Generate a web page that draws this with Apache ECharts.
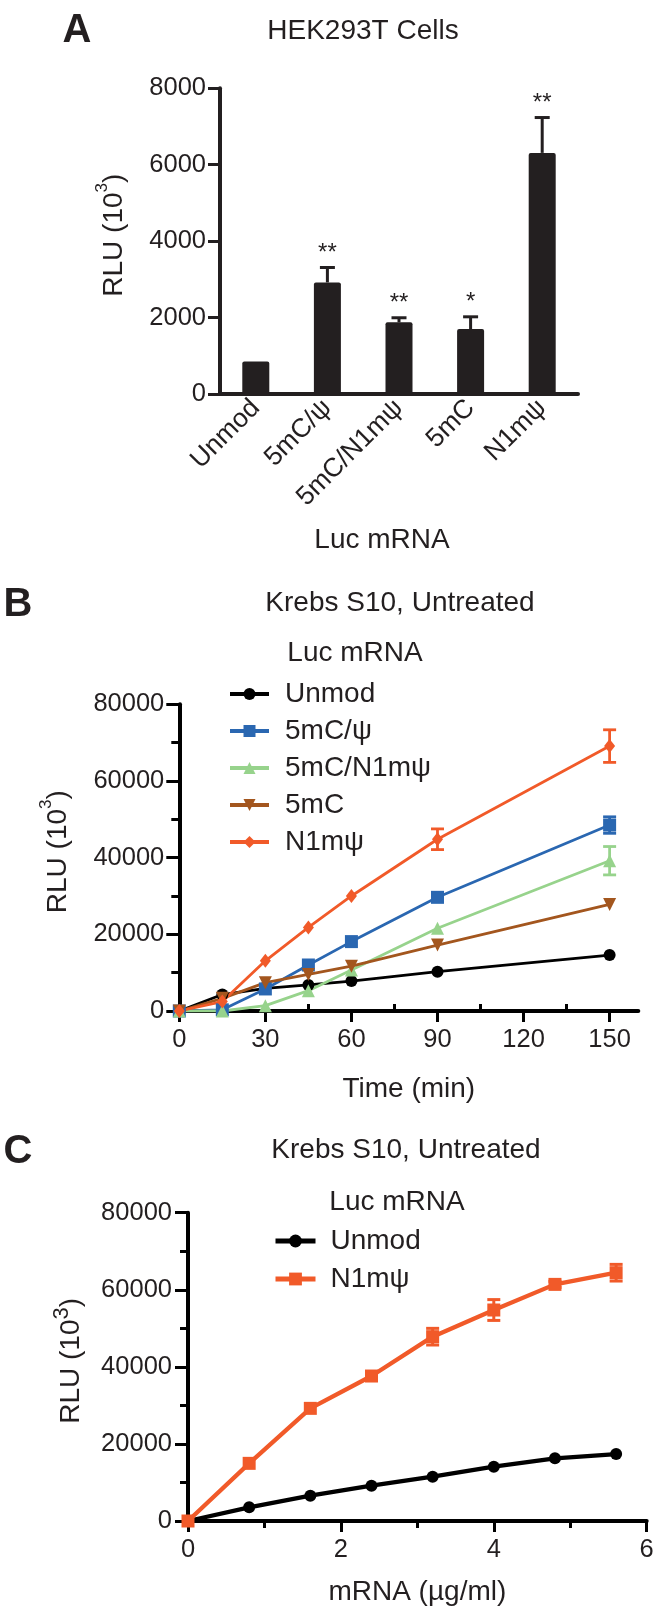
<!DOCTYPE html>
<html><head><meta charset="utf-8">
<script src="https://cdn.jsdelivr.net/npm/echarts@6/dist/echarts.min.js"></script>
<style>html,body{margin:0;padding:0;background:#fff}#c{width:661px;height:1620px}</style>
</head><body><div id="c"></div>
<script>
// ---------- Panel A data ----------
const aCategories = ['Unmod', '5mC/ψ', '5mC/N1mψ', '5mC', 'N1mψ'];
const aValues = [850, 2920, 1875, 1700, 6310];
const aErrors = [15, 390, 120, 320, 925];
const aStars = ['', '**', '**', '*', '**'];
const aYTicks = [0, 2000, 4000, 6000, 8000];

// ---------- Panel B data ----------
const bTimes = [0, 15, 30, 45, 60, 90, 150];
const bNames = ['Unmod', '5mC/ψ', '5mC/N1mψ', '5mC', 'N1mψ'];
const bUnmod = [0, 4300, 5900, 6800, 7800, 10250, 14600];
const bUnmodErr = [0, 0, 0, 0, 0, 0, 0];
const b5mCPsi = [0, 300, 5750, 12000, 18100, 29650, 48500];
const b5mCPsiErr = [0, 0, 0, 0, 0, 0, 2150];
const b5mCN1mPsi = [0, 0, 1400, 5300, 10700, 21600, 39200];
const b5mCN1mPsiErr = [0, 0, 0, 0, 0, 0, 3700];
const b5mC = [0, 3300, 7400, 9550, 11700, 17200, 27800];
const b5mCErr = [0, 0, 0, 0, 0, 0, 0];
const bN1mPsi = [0, 2450, 13100, 21800, 30000, 44800, 69100];
const bN1mPsiErr = [0, 0, 0, 0, 0, 2700, 4250];
const bXTicks = [0, 30, 60, 90, 120, 150];
const bXMinorTicks = [15, 45, 75, 105, 135];

// ---------- Panel C data ----------
const cDose = [0, 0.8, 1.6, 2.4, 3.2, 4.0, 4.8, 5.6];
const cNames = ['Unmod', 'N1mψ'];
const cUnmod = [0, 3550, 6570, 9170, 11500, 14100, 16260, 17380];
const cUnmodErr = [0, 0, 0, 0, 0, 0, 0, 0];
const cN1mPsi = [0, 14960, 29230, 37620, 47830, 54750, 61400, 64430];
const cN1mPsiErr = [0, 0, 0, 0, 2160, 2700, 800, 2160];

// ---------- styling ----------
const FONT = '"Liberation Sans", Arial, Helvetica, sans-serif';
const INK = '#231f20';
const COLORS = {
  'Unmod': '#000000',
  '5mC/ψ': '#2a67b1',
  '5mC/N1mψ': '#97d38c',
  '5mC': '#a3561e',
  'N1mψ': '#f15a29'
};

const chart = echarts.init(document.getElementById('c'), null, {renderer: 'canvas'});

function yName(sup) {
  return {
    name: '{a|RLU (10}{s|3}{a|)}',
    nameLocation: 'middle',
    nameRotate: 90,
    nameTextStyle: {
      padding: [0, 0, 0, 12],
      rich: {
        a: {fontSize: 28, fontFamily: FONT, color: INK, lineHeight: 34, verticalAlign: 'bottom'},
        s: {fontSize: sup, fontFamily: FONT, color: INK, lineHeight: 34, verticalAlign: 'top'}
      }
    }
  };
}
const numFmt = v => String(v);
const tickLabel = {fontSize: 25.5, fontFamily: FONT, color: INK, formatter: numFmt};

function pairs(xs, ys) { return xs.map((x, i) => [x, ys[i]]); }
function triples(xs, ys, es) { return xs.map((x, i) => [x, ys[i], es[i]]); }

function errSeries(xIdx, yIdx, data, color, capW, lw) {
  return {
    type: 'custom', xAxisIndex: xIdx, yAxisIndex: yIdx, z: 3,
    data: data,
    encode: {x: 0, y: 1},
    renderItem: function (params, api) {
      const x = api.value(0), y = api.value(1), e = api.value(2);
      if (!e) return {type: 'group', children: []};
      const pTop = api.coord([x, y + e]);
      const pBot = api.coord([x, y - e]);
      const st = {stroke: color, lineWidth: lw};
      return {type: 'group', children: [
        {type: 'line', shape: {x1: pTop[0], y1: pTop[1], x2: pBot[0], y2: pBot[1]}, style: st},
        {type: 'line', shape: {x1: pTop[0] - capW / 2, y1: pTop[1], x2: pTop[0] + capW / 2, y2: pTop[1]}, style: st},
        {type: 'line', shape: {x1: pBot[0] - capW / 2, y1: pBot[1], x2: pBot[0] + capW / 2, y2: pBot[1]}, style: st}
      ]};
    }
  };
}

function lineSeries(name, xIdx, yIdx, data, color, symbol, size, lw, rot) {
  return {
    type: 'line', name: name, xAxisIndex: xIdx, yAxisIndex: yIdx, z: 4,
    data: data, symbol: symbol, symbolSize: size, symbolRotate: rot || 0,
    showSymbol: true,
    lineStyle: {color: color, width: lw},
    itemStyle: {color: color, borderWidth: 0},
    emphasis: {disabled: true}
  };
}

const bSeriesData = [
  [bUnmod, bUnmodErr, 'circle', 12, 0],
  [b5mCPsi, b5mCPsiErr, 'rect', 13, 0],
  [b5mCN1mPsi, b5mCN1mPsiErr, 'triangle', 13, 0],
  [b5mC, b5mCErr, 'triangle', 13, 180],
  [bN1mPsi, bN1mPsiErr, 'diamond', [11, 14], 0]
];
const series = [];

// Panel A bars and one-sided error bars with stars
series.push({
  type: 'bar', xAxisIndex: 0, yAxisIndex: 0, data: aValues, barWidth: 27,
  itemStyle: {color: INK, borderRadius: 2}, emphasis: {disabled: true}
});
series.push({
  type: 'custom', xAxisIndex: 0, yAxisIndex: 0, z: 3,
  data: aValues.map((v, i) => [i, v, aErrors[i]]),
  encode: {x: 0, y: 1},
  renderItem: function (params, api) {
    const i = api.value(0), v = api.value(1), e = api.value(2);
    const p0 = api.coord([i, v]);
    const p1 = api.coord([i, v + e]);
    const st = {stroke: INK, lineWidth: 3};
    const ch = [];
    if (p0[1] - p1[1] > 2) {
      ch.push({type: 'line', shape: {x1: p0[0], y1: p0[1], x2: p1[0], y2: p1[1]}, style: st});
      ch.push({type: 'line', shape: {x1: p1[0] - 7.5, y1: p1[1], x2: p1[0] + 7.5, y2: p1[1]}, style: st});
    }
    const star = aStars[params.dataIndex];
    if (star) {
      ch.push({type: 'text', style: {text: star, x: p1[0], y: p1[1] - 14, align: 'center', verticalAlign: 'middle',
        fontSize: 24, fontFamily: FONT, fill: INK}});
    }
    return {type: 'group', children: ch};
  }
});

// Panel B
bNames.forEach((n, k) => {
  const d = bSeriesData[k];
  series.push(errSeries(1, 1, triples(bTimes, d[0], d[1]), COLORS[n], 13, 2.8));
});
bNames.forEach((n, k) => {
  const d = bSeriesData[k];
  series.push(lineSeries(n, 1, 1, pairs(bTimes, d[0]), COLORS[n], d[2], d[3], 2.8, d[4]));
});

// Panel C
series.push(errSeries(3, 2, triples(cDose, cUnmod, cUnmodErr), '#000000', 13, 3));
series.push(errSeries(3, 2, triples(cDose, cN1mPsi, cN1mPsiErr), COLORS['N1mψ'], 13, 3));
series.push(lineSeries('C:Unmod', 3, 2, pairs(cDose, cUnmod), '#000000', 'circle', 12, 4.3));
series.push(lineSeries('C:N1mψ', 3, 2, pairs(cDose, cN1mPsi), COLORS['N1mψ'], 'rect', 13, 4.3));

const axisLineStyle = (c) => ({show: true, onZero: false, lineStyle: {color: c, width: 4}});

const option = {
  animation: false,
  backgroundColor: '#ffffff',
  textStyle: {fontFamily: FONT},
  grid: [
    {left: 220, top: 88.3, width: 358, height: 305.7},
    {left: 179.3, top: 704.3, width: 459, height: 306.7},
    {left: 188, top: 1212.7, width: 458.7, height: 308.3}
  ],
  xAxis: [
    {gridIndex: 0, type: 'category', data: aCategories,
     axisLine: axisLineStyle(INK), axisTick: {show: false},
     axisLabel: {interval: 0, rotate: 45, fontSize: 26.5, fontFamily: FONT, color: INK, margin: 10},
     splitLine: {show: false}},
    {gridIndex: 1, type: 'value', min: 0, max: 160, interval: 30,
     axisLine: axisLineStyle('#000'),
     axisTick: {show: true, length: 11, customValues: bXTicks, lineStyle: {color: '#000', width: 3}},
     axisLabel: Object.assign({}, tickLabel, {margin: 16, customValues: bXTicks}),
     splitLine: {show: false},
     name: 'Time (min)', nameLocation: 'middle', nameGap: 64,
     nameTextStyle: {fontSize: 28, fontFamily: FONT, color: INK}},
    {gridIndex: 1, type: 'value', min: 0, max: 160, interval: 30,
     axisLine: {show: false},
     axisTick: {show: true, length: 7, customValues: bXMinorTicks, lineStyle: {color: '#000', width: 3}},
     axisLabel: {show: false}, splitLine: {show: false}},
    {gridIndex: 2, type: 'value', min: 0, max: 6, interval: 2,
     axisLine: axisLineStyle('#000'),
     axisTick: {show: true, length: 11, lineStyle: {color: '#000', width: 3}},
     minorTick: {show: true, splitNumber: 2, length: 7, lineStyle: {color: '#000', width: 3}},
     axisLabel: Object.assign({}, tickLabel, {margin: 16}),
     splitLine: {show: false}, minorSplitLine: {show: false},
     name: 'mRNA (µg/ml)', nameLocation: 'middle', nameGap: 57,
     nameTextStyle: {fontSize: 28, fontFamily: FONT, color: INK}}
  ],
  yAxis: [
    Object.assign({gridIndex: 0, type: 'value', min: 0, max: 8000, interval: 2000,
     axisLine: axisLineStyle(INK),
     axisTick: {show: true, length: 12, lineStyle: {color: INK, width: 3}},
     axisLabel: Object.assign({}, tickLabel, {margin: 14}),
     splitLine: {show: false}, nameGap: 92}, yName(17)),
    Object.assign({gridIndex: 1, type: 'value', min: 0, max: 80000, interval: 20000,
     axisLine: axisLineStyle('#000'),
     axisTick: {show: true, length: 13, lineStyle: {color: '#000', width: 3}},
     minorTick: {show: true, splitNumber: 2, length: 8, lineStyle: {color: '#000', width: 3}},
     axisLabel: Object.assign({}, tickLabel, {margin: 15}),
     splitLine: {show: false}, minorSplitLine: {show: false}, nameGap: 107}, yName(17)),
    Object.assign({gridIndex: 2, type: 'value', min: 0, max: 80000, interval: 20000,
     axisLine: axisLineStyle('#000'),
     axisTick: {show: true, length: 13, lineStyle: {color: '#000', width: 3}},
     minorTick: {show: true, splitNumber: 2, length: 8, lineStyle: {color: '#000', width: 3}},
     axisLabel: Object.assign({}, tickLabel, {margin: 16}),
     splitLine: {show: false}, minorSplitLine: {show: false}, nameGap: 103}, yName(22))
  ],
  legend: [
    {data: bNames, orient: 'vertical', left: 223, top: 674, itemWidth: 39, itemHeight: 15, itemGap: 7,
     selectedMode: false, lineStyle: {width: 4},
     textStyle: {fontSize: 28, fontFamily: FONT, color: INK, lineHeight: 30, padding: [0, 0, 0, 11]}},
    {data: ['C:Unmod', 'C:N1mψ'], orient: 'vertical', left: 268, top: 1221, itemWidth: 40, itemHeight: 16, itemGap: 8,
     selectedMode: false, formatter: n => n.replace('C:', ''), lineStyle: {width: 5},
     textStyle: {fontSize: 28, fontFamily: FONT, color: INK, lineHeight: 30, padding: [0, 0, 0, 10]}}
  ],
  graphic: [
    {type: 'text', style: {text: 'A', x: 77, y: 31, align: 'center', verticalAlign: 'middle', fontSize: 40, fontWeight: 'bold', fontFamily: FONT, fill: INK}},
    {type: 'text', style: {text: 'HEK293T Cells', x: 363, y: 31, align: 'center', verticalAlign: 'middle', fontSize: 28, fontFamily: FONT, fill: INK}},
    {type: 'text', style: {text: 'Luc mRNA', x: 382, y: 540, align: 'center', verticalAlign: 'middle', fontSize: 28, fontFamily: FONT, fill: INK}},
    {type: 'text', style: {text: 'B', x: 18, y: 605, align: 'center', verticalAlign: 'middle', fontSize: 40, fontWeight: 'bold', fontFamily: FONT, fill: INK}},
    {type: 'text', style: {text: 'Krebs S10, Untreated', x: 400, y: 603, align: 'center', verticalAlign: 'middle', fontSize: 28, fontFamily: FONT, fill: INK}},
    {type: 'text', style: {text: 'Luc mRNA', x: 355, y: 653, align: 'center', verticalAlign: 'middle', fontSize: 28, fontFamily: FONT, fill: INK}},
    {type: 'text', style: {text: 'C', x: 18, y: 1152, align: 'center', verticalAlign: 'middle', fontSize: 40, fontWeight: 'bold', fontFamily: FONT, fill: INK}},
    {type: 'text', style: {text: 'Krebs S10, Untreated', x: 406, y: 1150, align: 'center', verticalAlign: 'middle', fontSize: 28, fontFamily: FONT, fill: INK}},
    {type: 'text', style: {text: 'Luc mRNA', x: 397, y: 1202, align: 'center', verticalAlign: 'middle', fontSize: 28, fontFamily: FONT, fill: INK}}
  ],
  series: series
};
chart.setOption(option);
</script>
</body></html>
